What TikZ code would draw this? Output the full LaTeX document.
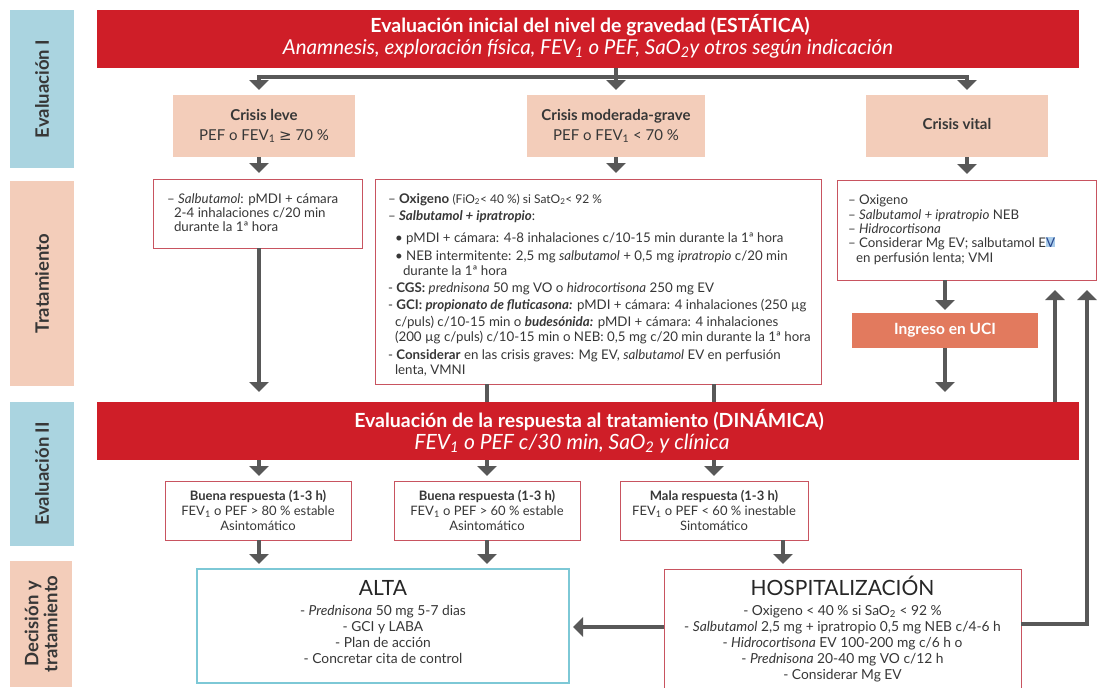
\documentclass[tikz,border=0pt]{standalone}
\usepackage{fontspec}
\setmainfont{Lato}
\newfontfamily\symf{DejaVu Sans}
\usetikzlibrary{arrows.meta}
\definecolor{banred}{RGB}{207,30,40}
\definecolor{lblue}{RGB}{170,212,224}
\definecolor{peach}{RGB}{243,205,186}
\definecolor{bxred}{RGB}{200,84,96}
\definecolor{altab}{RGB}{125,200,214}
\definecolor{ucic}{RGB}{226,122,94}
\definecolor{arr}{RGB}{88,88,88}
\definecolor{txt}{RGB}{55,55,55}
\definecolor{hlblue}{RGB}{170,205,235}
\definecolor{hltxt}{RGB}{40,70,140}
\newcommand\sbs[1]{\textsubscript{#1}}
\newcommand\fs[1]{\fontsize{#1}{#1}\selectfont}
\newcommand\geqsym{{\symf ≥}}
\newcommand\hlV{{\setlength\fboxsep{0pt}\colorbox{hlblue}{\textcolor{hltxt}{V}}}}
\tikzset{
  base/.style={inner sep=0pt, outer sep=0pt},
  lblbox/.style={base, fill=#1, draw=none},
  banbox/.style={base, fill=banred, draw=none},
  crisbox/.style={base, fill=peach, draw=none},
  redbox/.style={base, fill=white, draw=bxred, line width=0.9pt},
  altabox/.style={base, fill=white, draw=altab, line width=1.1pt},
  ucibox/.style={base, fill=ucic, draw=none},
  con/.style={draw=arr, line width=3.4pt},
  arw/.style={con, -{Triangle[width=19pt,length=10pt]}},
  ln/.style={base, anchor=base west, text=txt, font=\fs{13.3}},
  cl/.style={base, anchor=base, text=txt, font=\fs{13.8}},
  rl/.style={base, anchor=base, text=txt, font=\fs{13}},
  bigt/.style={base, anchor=base, text=black!85, font=\fs{21}},
  lbltxt/.style={base, rotate=90, text=txt, font=\fontsize{18.5}{19}\selectfont\bfseries, align=center},
}
\newcommand\bx[6]{\node[#2, minimum width={(#5-#3)*1pt}, minimum height={(#6-#4)*1pt}] (#1) at ({(#3+#5)/2},{(#4+#6)/2}) {};}
\begin{document}
\begin{tikzpicture}[x=1pt,y=-1pt, line join=miter]
\useasboundingbox[fill=white] (0,0) rectangle (1098,688);
% side labels
\bx{le1}{lblbox=lblue}{10}{10}{74}{168}
\bx{lt}{lblbox=peach}{10}{181}{74}{386}
\bx{le2}{lblbox=lblue}{10}{402}{74}{546}
\bx{ld}{lblbox=peach}{10}{561}{72}{687}
\node[lbltxt] (le1t) at (le1) {Evaluación I};
\node[lbltxt] (ltt) at (lt) {Tratamiento};
\node[lbltxt] (le2t) at (le2) {Evaluación II};
\node[lbltxt] (ldt) at (ld) {Decisión y\\tratamiento};
% banners
\bx{ban1}{banbox}{97}{10}{1079}{68}
\bx{ban2}{banbox}{97}{402}{1079}{460}
\node[base, anchor=base, text=white, font=\fs{19.5}\bfseries] (b1a) at (590,32) {Evaluación inicial del nivel de gravedad (ESTÁTICA)};
\node[base, anchor=base, text=white, font=\fs{20.5}\itshape] (b1b) at (588,54) {Anamnesis, exploración física, FEV\sbs{1} o PEF, SaO\sbs{2}y otros según indicación};
\node[base, anchor=base, text=white, font=\fs{19.5}\bfseries] (b2a) at (589,427) {Evaluación de la respuesta al tratamiento (DINÁMICA)};
\node[base, anchor=base, text=white, font=\fs{21}\itshape] (b2b) at (572,449) {FEV\sbs{1} o PEF c/30 min, SaO\sbs{2} y clínica};
% crisis boxes
\bx{leve}{crisbox}{173}{95}{355}{157}
\bx{mod}{crisbox}{527}{95}{705}{157}
\bx{vital}{crisbox}{866}{95}{1048}{157}
\node[cl, font=\fs{15}\bfseries] (lv1) at (264,120) {Crisis leve};
\node[cl, font=\fs{15}] (lv2) at (264,140) {PEF o FEV\sbs{1} \geqsym{} 70 \%};
\node[cl, font=\fs{15}\bfseries] (md1) at (616,120) {Crisis moderada-grave};
\node[cl, font=\fs{15}] (md2) at (616,140) {PEF o FEV\sbs{1} < 70 \%};
\node[cl, font=\fs{15}\bfseries] (vt1) at (957,129) {Crisis vital};
% treatment boxes
\bx{tleve}{redbox}{153}{179}{362}{248}
\bx{tmod}{redbox}{375}{179}{821}{384}
\bx{tvital}{redbox}{837}{180}{1096}{280}
\node[ln] (tl1) at (167,203) {– \textit{Salbutamol}: pMDI + cámara};
\node[ln] (tl2) at (174,217) {2-4 inhalaciones c/20 min};
\node[ln] (tl3) at (174,231) {durante la 1ª hora};
\node[ln] (tm1) at (388,203) {– \textbf{Oxigeno} {\fs{12}(FiO\sbs{2}< 40 \%) si SatO\sbs{2}< 92 \%}};
\node[ln] (tm2) at (388,220) {– \textbf{\textit{Salbutamol + ipratropio}}:};
\node[ln] (tm3) at (395,242) {• pMDI + cámara: 4-8 inhalaciones c/10-15 min durante la 1ª hora};
\node[ln] (tm4) at (395,260) {• NEB intermitente: 2,5 mg \textit{salbutamol} + 0,5 mg \textit{ipratropio} c/20 min};
\node[ln] (tm5) at (403,275) {durante la 1ª hora};
\node[ln] (tm6) at (388,292) {- \textbf{CGS:} \textit{prednisona} 50 mg VO o \textit{hidrocortisona} 250 mg EV};
\node[ln] (tm7) at (388,309) {- \textbf{GCI:} \textbf{\textit{propionato de fluticasona:}} pMDI + cámara: 4 inhalaciones (250 µg};
\node[ln] (tm8) at (395,326) {c/puls) c/10-15 min o \textbf{\textit{budesónida:}} pMDI + cámara: 4 inhalaciones};
\node[ln] (tm9) at (395,341) {(200 µg c/puls) c/10-15 min o NEB: 0,5 mg c/20 min durante la 1ª hora};
\node[ln] (tm10) at (388,359) {- \textbf{Considerar} en las crisis graves: Mg EV, \textit{salbutamol} EV en perfusión};
\node[ln] (tm11) at (395,374) {lenta, VMNI};
\node[ln] (tv1) at (848,204) {– Oxigeno};
\node[ln] (tv2) at (848,219) {– \textit{Salbutamol + ipratropio} NEB};
\node[ln] (tv3) at (848,233) {– \textit{Hidrocortisona}};
\node[ln] (tv4) at (848,247) {– Considerar Mg EV; salbutamol E\hlV};
\node[ln] (tv5) at (856,262) {en perfusión lenta; VMI};
% UCI
\bx{uci}{ucibox}{852}{313}{1038}{348}
\node[base, text=white, font=\fs{15.5}\bfseries] (ucit) at (uci) {Ingreso en UCI};
% response boxes
\bx{r1}{redbox}{165}{481}{351}{540}
\bx{r2}{redbox}{394}{481}{580}{540}
\bx{r3}{redbox}{620}{481}{808}{540}
\node[rl, font=\fs{13}\bfseries] (r1a) at (r1 |- 0,500) {Buena respuesta (1-3 h)};
\node[rl] (r1b) at (r1 |- 0,515) {FEV\sbs{1} o PEF > 80 \% estable};
\node[rl] (r1c) at (r1 |- 0,530) {Asintomático};
\node[rl, font=\fs{13}\bfseries] (r2a) at (r2 |- 0,500) {Buena respuesta (1-3 h)};
\node[rl] (r2b) at (r2 |- 0,515) {FEV\sbs{1} o PEF > 60 \% estable};
\node[rl] (r2c) at (r2 |- 0,530) {Asintomático};
\node[rl, font=\fs{13}\bfseries] (r3a) at (r3 |- 0,500) {Mala respuesta (1-3 h)};
\node[rl] (r3b) at (r3 |- 0,515) {FEV\sbs{1} o PEF < 60 \% inestable};
\node[rl] (r3c) at (r3 |- 0,530) {Sintomático};
% bottom boxes
\bx{alta}{altabox}{197}{569}{569}{683}
\bx{hosp}{redbox}{664}{569}{1021}{694}
\node[bigt] (alt0) at (alta |- 0,595) {ALTA};
\node[cl] (alt1) at (alta |- 0,615) {- \textit{Prednisona} 50 mg 5-7 dias};
\node[cl] (alt2) at (alta |- 0,631) {- GCI y LABA};
\node[cl] (alt3) at (alta |- 0,647) {- Plan de acción};
\node[cl] (alt4) at (alta |- 0,663) {- Concretar cita de control};
\node[bigt] (hs0) at (hosp |- 0,595) {HOSPITALIZACIÓN};
\node[cl] (hs1) at (hosp |- 0,615) {- Oxigeno < 40 \% si SaO\sbs{2} < 92 \%};
\node[cl] (hs2) at (hosp |- 0,631) {- \textit{Salbutamol} 2,5 mg + ipratropio 0,5 mg NEB c/4-6 h};
\node[cl] (hs3) at (hosp |- 0,647) {- \textit{Hidrocortisona} EV 100-200 mg c/6 h o};
\node[cl] (hs4) at (hosp |- 0,663) {- \textit{Prednisona} 20-40 mg VO c/12 h};
\node[cl] (hs5) at (hosp |- 0,679) {- Considerar Mg EV};
% connectors
\coordinate (ly) at (0,77);
\coordinate (cl) at (259,0);
\coordinate (cv) at (967,0);
\coordinate (c3) at (783,0);
\draw[arw, shorten >=5pt] (ban1.south -| mod) -- (mod.north);
\draw[arw, shorten >=5pt] (mod |- ly) -| (cl |- leve.north);
\draw[arw, shorten >=5pt] (mod |- ly) -| (cv |- vital.north);
\draw[arw, shorten >=6pt] (cl |- leve.south) -- (cl |- tleve.north);
\draw[arw, shorten >=6pt] (mod.south) -- (mod.south |- tmod.north);
\draw[arw, shorten >=6pt] (cv |- vital.south) -- (cv |- tvital.north);
\draw[arw, shorten >=10pt] (cl |- tleve.south) -- (cl |- ban2.north);
\draw[con] (tmod.south -| r2) -- (r2 |- ban2.north);
\draw[con] (tmod.south -| r3) -- (r3 |- ban2.north);
\draw[arw, shorten >=3pt] (uci |- tvital.south) -- (uci.north);
\draw[arw, shorten >=10pt] (uci.south) -- (uci.south |- ban2.north);
\draw[arw, shorten >=5pt] (ban2.south -| cl) -- (cl |- r1.north);
\draw[arw, shorten >=5pt] (ban2.south -| r2) -- (r2.north);
\draw[arw, shorten >=5pt] (ban2.south -| r3) -- (r3.north);
\draw[arw, shorten >=5pt] (cl |- r1.south) -- (cl |- alta.north);
\draw[arw, shorten >=5pt] (r2.south) -- (r2.south |- alta.north);
\draw[arw, shorten >=5pt] (r3.south -| c3) -- (c3 |- hosp.north);
\coordinate (hl) at (0,627);
\draw[arw, shorten >=4pt] (hosp.west |- hl) -- (alta.east |- hl);
\coordinate (up1) at (1055,290);
\coordinate (up2) at (1087,290);
\coordinate (hr) at (1087,624);
\draw[arw] (ban2.north -| up1) -- (up1);
\draw[arw] (hosp.east |- hr) -- (hr) -- (up2);
\end{tikzpicture}
\end{document}
